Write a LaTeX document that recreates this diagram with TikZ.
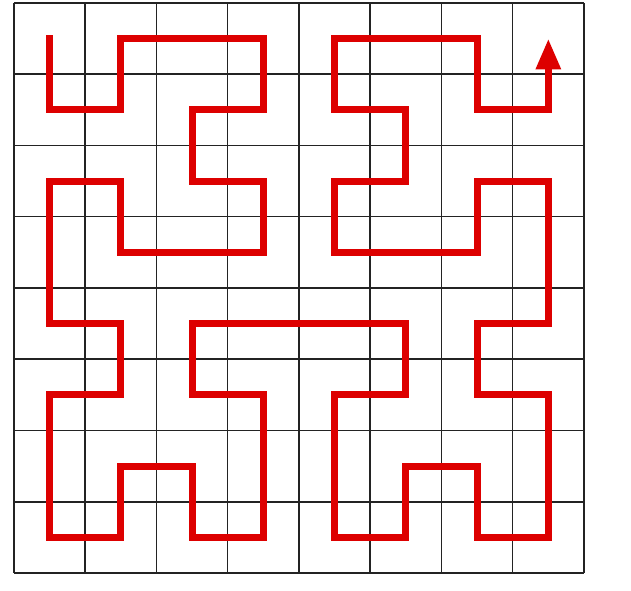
\documentclass[tikz,border=0pt]{standalone}
\usepackage{tikz}
\usepackage{xcolor}
\usetikzlibrary{arrows.meta}
\definecolor{CurveColor}{RGB}{221,0,0}
\definecolor{GridColor}{RGB}{35,35,35}

\begin{document}
\begin{tikzpicture}[>=Latex, x=1cm, y=1cm,
    gridline/.style={draw=GridColor, line width=0.6pt},
    hilbert/.style={draw=CurveColor, line width=2.8pt, line cap=rect, miter limit=10,
      -{Triangle[length=0.43cm, width=0.33cm]}}]
      \useasboundingbox (-0.196,-0.239) rectangle (8.66,8.042);
      % 8x8 grid
      \draw[gridline] (0,0) grid[step=1] (8,8);
      % order 3 Hilbert curve through the cell centres
      \draw[hilbert] (0.5,7.5) -- (0.5,6.5) -- (1.5,6.5) -- (1.5,7.5) -- (3.5,7.5) -- (3.5,6.5)
        -- (2.5,6.5) -- (2.5,5.5) -- (3.5,5.5) -- (3.5,4.5) -- (1.5,4.5) -- (1.5,5.5)
        -- (0.5,5.5) -- (0.5,3.5) -- (1.5,3.5) -- (1.5,2.5) -- (0.5,2.5) -- (0.5,0.5)
        -- (1.5,0.5) -- (1.5,1.5) -- (2.5,1.5) -- (2.5,0.5) -- (3.5,0.5) -- (3.5,2.5)
        -- (2.5,2.5) -- (2.5,3.5) -- (5.5,3.5) -- (5.5,2.5) -- (4.5,2.5) -- (4.5,0.5)
        -- (5.5,0.5) -- (5.5,1.5) -- (6.5,1.5) -- (6.5,0.5) -- (7.5,0.5) -- (7.5,2.5)
        -- (6.5,2.5) -- (6.5,3.5) -- (7.5,3.5) -- (7.5,5.5) -- (6.5,5.5) -- (6.5,4.5)
        -- (4.5,4.5) -- (4.5,5.5) -- (5.5,5.5) -- (5.5,6.5) -- (4.5,6.5) -- (4.5,7.5)
        -- (6.5,7.5) -- (6.5,6.5) -- (7.5,6.5) -- (7.5,7.5);
    \end{tikzpicture}
\end{document}
